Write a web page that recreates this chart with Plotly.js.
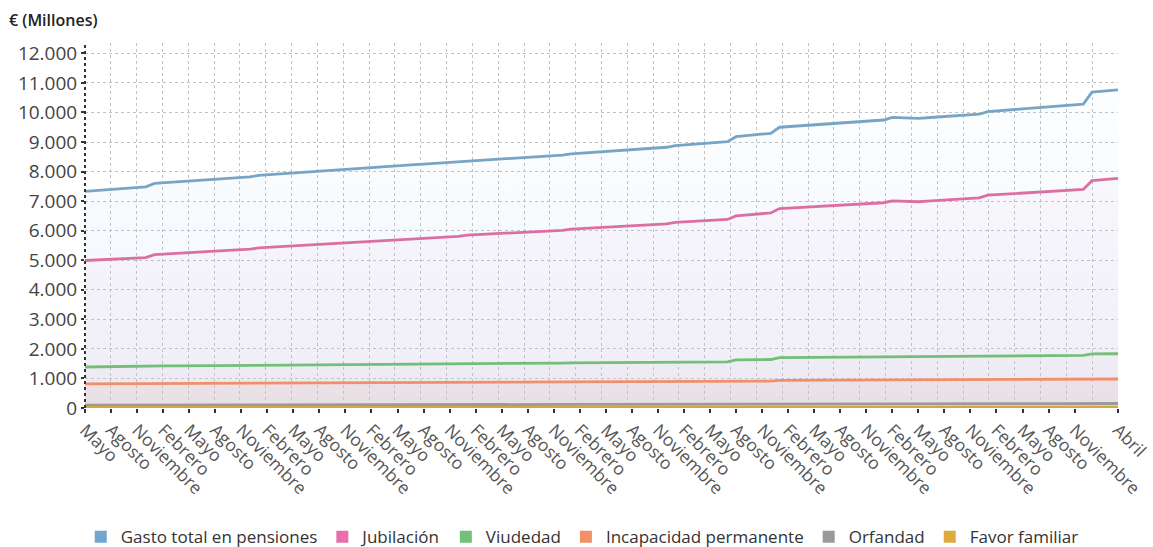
<!DOCTYPE html>
<html>
<head>
<meta charset="utf-8">
<script src="https://cdn.plot.ly/plotly-3.0.1.min.js"></script>
<style>
html,body{margin:0;padding:0;background:#fff;}
#chart{width:1153px;height:547px;}
</style>
</head>
<body>
<div id="chart"></div>
<script>
// Month names (series starts in May and runs monthly to April, 120 months)
const monthNames = ['Mayo','Junio','Julio','Agosto','Septiembre','Octubre','Noviembre','Diciembre','Enero','Febrero','Marzo','Abril'];

const seriesNames = ['Gasto total en pensiones','Jubilación','Viudedad','Incapacidad permanente','Orfandad','Favor familiar'];

const gastoTotal = [
 7330,7350,7368,7390,7409,7430,7455,7485,
 7600,7618,7641,7659,7682,7700,7719,7742,7760,7778,7801,7819,
 7872,7893,7914,7933,7955,7974,7996,8013,8035,8054,8072,8090,
 8135,8152,8170,8186,8204,8221,8238,8255,8273,8290,8307,8325,
 8368,8386,8403,8420,8437,8455,8472,8489,8506,8524,8541,8558,
 8602,8620,8637,8655,8672,8690,8712,8734,8756,8778,8800,8822,
 8877,8899,8921,8943,8965,8987,9010,9180,9205,9235,9262,9295,
 9500,9520,9540,9555,9575,9590,9610,9630,9650,9665,9685,9700,
 9745,9835,9820,9805,9800,9820,9840,9860,9880,9900,9920,9940,
 10030,10052,10075,10098,10120,10143,10166,10189,10212,10235,10258,10280,
 10685,10712,10740,10765];

const jubilacion = [
 4990,5005,5018,5032,5046,5060,5075,5090,
 5190,5207,5223,5240,5256,5273,5289,5306,5322,5339,5355,5372,
 5415,5432,5448,5465,5481,5498,5514,5531,5548,5565,5582,5598,
 5640,5655,5670,5685,5700,5715,5730,5745,5760,5775,5790,5805,
 5848,5863,5878,5893,5908,5923,5938,5953,5968,5983,5998,6013,
 6056,6071,6086,6101,6116,6131,6147,6164,6181,6198,6215,6232,
 6280,6297,6314,6331,6348,6364,6380,6500,6525,6550,6575,6600,
 6750,6765,6780,6795,6810,6825,6840,6855,6870,6885,6905,6920,
 6945,7010,7000,6985,6978,6998,7018,7038,7058,7078,7095,7110,
 7200,7218,7236,7254,7272,7290,7308,7326,7343,7360,7378,7395,
 7690,7718,7745,7770];

const viudedad = [
 1388,1389,1390,1391,1392,1393,1394,1396,
 1420,1422,1424,1426,1428,1429,1431,1433,1435,1437,1439,1440,
 1447,1449,1451,1452,1454,1456,1458,1460,1461,1463,1465,1467,
 1474,1476,1478,1479,1481,1483,1485,1486,1488,1490,1492,1494,
 1501,1503,1505,1506,1508,1510,1512,1513,1515,1517,1519,1521,
 1528,1530,1531,1533,1535,1536,1538,1540,1541,1543,1545,1547,
 1553,1555,1556,1558,1559,1561,1563,1628,1632,1635,1638,1641,
 1702,1704,1706,1707,1709,1710,1712,1714,1715,1717,1718,1720,
 1724,1738,1736,1733,1732,1734,1736,1738,1740,1742,1744,1746,
 1760,1762,1763,1765,1767,1768,1770,1771,1773,1775,1776,1778,
 1830,1832,1834,1836];

const incapacidad = [
 815,816,816,817,817,818,818,819,
 828,829,829,830,830,831,831,832,832,833,833,834,
 838,839,839,840,840,841,841,842,842,843,843,844,
 848,849,849,850,850,851,851,852,852,853,854,854,
 858,859,860,860,861,861,862,862,863,864,864,865,
 869,870,870,871,871,872,873,873,874,874,875,876,
 880,881,881,882,883,883,884,906,907,908,909,910,
 935,936,937,937,938,939,939,940,941,941,942,943,
 944,950,949,948,947,948,948,949,950,950,951,952,
 958,959,959,960,961,961,962,962,963,964,964,965,
 980,981,981,982];

const orfandad = [
 96,96,96,96,97,97,97,97,
 99,99,100,100,100,101,101,101,102,102,102,103,
 104,104,105,105,105,106,106,106,107,107,108,108,
 109,110,110,110,111,111,112,112,112,113,113,114,
 115,115,116,116,117,117,117,118,118,119,119,120,
 121,121,122,122,123,123,124,124,124,125,125,126,
 127,127,128,128,129,129,130,132,132,133,133,134,
 136,136,137,137,137,138,138,138,139,139,139,140,
 140,142,142,141,141,142,142,142,143,143,143,144,
 145,145,146,146,146,147,147,147,148,148,148,149,
 152,152,153,153];

const favorFamiliar = [
 21,21,21,21,21,21,21,21,
 21,21,21,21,21,21,21,21,21,21,21,21,
 22,22,22,22,22,22,22,22,22,22,22,22,
 22,22,22,22,22,22,22,22,22,22,22,22,
 22,22,22,22,22,22,22,22,22,22,22,22,
 23,23,23,23,23,23,23,23,23,23,23,23,
 23,23,23,23,23,23,23,23,23,23,23,23,
 24,24,24,24,24,24,24,24,24,24,24,24,
 24,24,24,24,24,24,24,24,24,24,24,24,
 24,24,24,24,24,24,24,24,24,24,24,24,
 25,25,25,25];

const allSeries = [gastoTotal, jubilacion, viudedad, incapacidad, orfandad, favorFamiliar];

// ---- presentation ----
const lineColors = ['#78a5c6','#dc6fa2','#72bf78','#f08f6a','#9a9a9a','#d6a640'];
const legendColors = ['#72a5d0','#ea6fa9','#72c07a','#f39068','#9a9a9a','#dcaa3e'];
const fillTop = ['rgba(160,195,235,0.02)','rgba(235,170,215,0.05)','rgba(215,195,200,0.08)','rgba(225,190,185,0.18)','rgba(180,170,170,0.10)','rgba(214,166,64,0.5)'];
const fillBottom = ['rgba(160,195,235,0.17)','rgba(230,175,205,0.11)','rgba(215,195,200,0.10)','rgba(225,190,185,0.24)','rgba(180,170,170,0.10)','rgba(214,166,64,0.5)'];
const gradStop = [10800, 7800, 1850, 1000, 160, 30];

const n = gastoTotal.length;
const xIdx = Array.from({length: n}, (_, i) => i);
const xLabels = xIdx.map(i => monthNames[i % 12]);

// ticks every 3 months; last label (Abril) at the end
const tickVals = xIdx.filter(i => (i % 3 === 0 && i <= n - 6) || i === n - 1);
const tickText = tickVals.map(i => xLabels[i]);
const gridVals = Array.from({length: 41}, (_, k) => k * (n - 1) / 40);

const traces = [];
allSeries.forEach((ys, s) => {
  traces.push({
    type: 'scatter', mode: 'lines', x: xIdx, y: ys,
    name: seriesNames[s], showlegend: false,
    line: {color: lineColors[s], width: 2.8, shape: 'linear'},
    fill: 'tozeroy', fillcolor: fillBottom[s],
    fillgradient: {type: 'vertical', start: 0, stop: gradStop[s],
      colorscale: [[0, fillBottom[s]], [1, fillTop[s]]]},
    hoverinfo: 'skip'
  });
});
// legend entries (square swatches)
seriesNames.forEach((nm, s) => {
  traces.push({
    type: 'scatter', mode: 'markers', x: [null], y: [null],
    name: nm, showlegend: true,
    marker: {symbol: 'square', size: 12, color: legendColors[s]},
    hoverinfo: 'skip'
  });
});

const layout = {
  width: 1153, height: 547,
  margin: {l: 85, r: 35, t: 43, b: 139},
  paper_bgcolor: '#ffffff', plot_bgcolor: '#ffffff',
  separators: ',.',
  font: {family: 'Open Sans, Noto Sans, sans-serif', color: '#444'},
  showlegend: true,
  legend: {
    orientation: 'h', xref: 'container', yref: 'container',
    x: 0.505, xanchor: 'center', y: 0.018, yanchor: 'middle',
    font: {size: 17, color: '#333'}, itemwidth: 30, tracegroupgap: 0,
    traceorder: 'normal'
  },
  xaxis: {
    range: [0, n - 1], fixedrange: true,
    tickmode: 'array', tickvals: tickVals, ticktext: tickText,
    tickangle: 45, tickfont: {size: 17.5, color: '#555'},
    ticks: 'outside', ticklen: 4, tickwidth: 2, tickcolor: '#333',
    showgrid: false, zeroline: false, showline: false,
    minor: {tickmode: 'array', tickvals: gridVals, showgrid: true, gridcolor: '#c2c2c2', griddash: 'dot', gridwidth: 1, ticks: ''}
  },
  yaxis: {
    range: [0, 12350], fixedrange: true,
    tickvals: [0,1000,2000,3000,4000,5000,6000,7000,8000,9000,10000,11000,12000],
    tickformat: ',d', tickfont: {size: 19, color: '#444'},
    ticks: 'outside', ticklen: 3, tickwidth: 2, tickcolor: '#333',
    showgrid: true, gridcolor: '#c2c2c2', griddash: 'dot', gridwidth: 1,
    zeroline: false, showline: false
  },
  shapes: [
    {type: 'line', xref: 'paper', yref: 'paper', x0: 0, x1: 0, y0: 0, y1: 1,
     line: {color: '#333', width: 2, dash: 'dot'}}
  ],
  annotations: [
    {text: '€ (Millones)', xref: 'paper', yref: 'paper', x: -78/1033, y: (408 - 20)/365,
     xanchor: 'left', yanchor: 'middle', showarrow: false,
     font: {size: 16, color: '#222', family: 'Open Sans, sans-serif', weight: 600}}
  ]
};

Plotly.newPlot('chart', traces, layout, {displayModeBar: false, staticPlot: true});
</script>
</body>
</html>
